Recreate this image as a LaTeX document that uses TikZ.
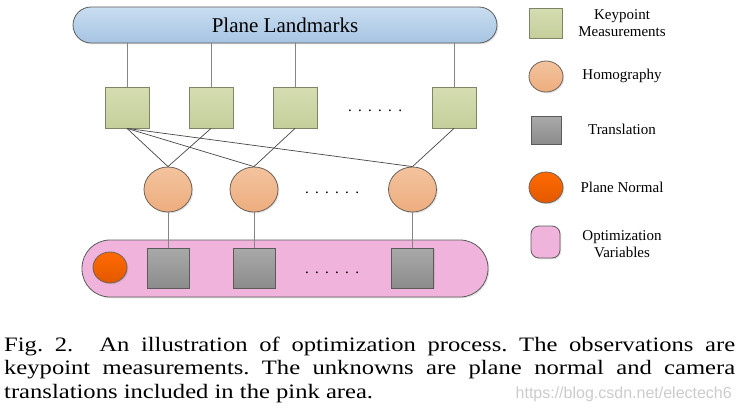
\documentclass[tikz,border=0pt]{standalone}
\usepackage{fontspec}
\setmainfont{Liberation Serif}
\newfontfamily\capfont[FakeStretch=1.2]{Liberation Serif}
\newfontfamily\wmfont{Liberation Sans}
\usetikzlibrary{shapes.geometric,shadows}
\definecolor{blueT}{HTML}{C9DDF0}
\definecolor{blueB}{HTML}{A6C4E2}
\definecolor{greenT}{HTML}{D5DDB2}
\definecolor{greenB}{HTML}{C5CF9B}
\definecolor{greenD}{HTML}{7E8466}
\definecolor{orT}{HTML}{F3C39E}
\definecolor{orB}{HTML}{EDAD7E}
\definecolor{orD}{HTML}{6E6258}
\definecolor{grT}{HTML}{A9A9A9}
\definecolor{grB}{HTML}{8C8C8C}
\definecolor{grD}{HTML}{5A5A5A}
\definecolor{nrT}{HTML}{FF6A00}
\definecolor{nrB}{HTML}{E25800}
\definecolor{pinkC}{HTML}{F0B3DB}
\definecolor{edgeD}{HTML}{5C5C5C}
\newcommand\sixdots{.\hspace{6.3pt}.\hspace{6.3pt}.\hspace{6.3pt}.\hspace{6.3pt}.\hspace{6.3pt}.}
\tikzset{
  shad/.style={drop shadow={opacity=0.22,shadow xshift=1.3pt,shadow yshift=-1.3pt}},
  landmark/.style={rectangle, draw=edgeD, line width=0.8pt, rounded corners=18pt,
    top color=blueT, bottom color=blueB, minimum width=424pt, minimum height=36pt,
    inner sep=0pt, font=\fontsize{21}{24}\selectfont, shad},
  kpbox/.style={rectangle, draw=greenD, line width=0.8pt, top color=greenT, bottom color=greenB,
    minimum width=44pt, minimum height=41pt, inner sep=0pt, shad},
  homo/.style={ellipse, draw=orD, line width=0.8pt, top color=orT, bottom color=orB,
    minimum width=48pt, minimum height=45pt, inner sep=0pt, shad},
  trans/.style={rectangle, draw=grD, line width=0.8pt, top color=grT, bottom color=grB,
    minimum width=42pt, minimum height=40pt, inner sep=0pt, shad},
  pnormal/.style={ellipse, draw=orD, line width=0.8pt, top color=nrT, bottom color=nrB,
    minimum width=34pt, minimum height=31pt, inner sep=0pt, shad},
  optarea/.style={rectangle, draw=edgeD, line width=0.8pt, fill=pinkC, rounded corners=28pt,
    minimum width=406pt, minimum height=57pt, inner sep=0pt, shad},
  link/.style={draw=black!48, line width=0.9pt},
  cross/.style={draw=black!72, line width=0.7pt},
  legtext/.style={font=\fontsize{15}{17}\selectfont, align=center, inner sep=0pt},
  dotsrow/.style={inner sep=0pt, font=\fontsize{15}{15}\selectfont}
}
\begin{document}
\begin{tikzpicture}[x=1pt,y=-1pt]
\useasboundingbox (0,0) rectangle (740,416);
\fill[white] (0,0) rectangle (740,416);

% top landmark bar
\node[landmark] (land) at (285,25) {Plane Landmarks};

% keypoint measurements
\node[kpbox] (k1) at (127,107.5) {};
\node[kpbox] (k2) at (211,107.5) {};
\node[kpbox] (k3) at (295,107.5) {};
\node[kpbox] (k4) at (454,107.5) {};
\node[dotsrow] (d1) at (375,110.5) {\sixdots};

% homographies
\node[homo] (h1) at (168,189.5) {};
\node[homo] (h2) at (254,189.5) {};
\node[homo] (h3) at (412.5,189.5) {};
\node[dotsrow] (d2) at (332,193) {\sixdots};

% optimization variables
\node[optarea] (opt) at (285,268.5) {};
\node[pnormal] (n1) at (110,267.5) {};
\node[trans] (t1) at (168,268) {};
\node[trans] (t2) at (254,268) {};
\node[trans] (t3) at (412.5,268) {};
\node[dotsrow] (d3) at (332,273) {\sixdots};

% connectors
\foreach \k in {k1,k2,k3,k4}{
  \draw[link] (\k.north) -- (\k.north |- land.south);
}
\draw[cross] (k1.south) -- (h1.north);
\draw[cross] (k1.south) -- (h2.north);
\draw[cross] (k1.south) -- (h3.north);
\draw[cross] (k2.south) -- (h1.north);
\draw[cross] (k3.south) -- (h2.north);
\draw[cross] (k4.south) -- (h3.north);
\draw[link] (h1.south) -- (t1.north);
\draw[link] (h2.south) -- (t2.north);
\draw[link] (h3.south) -- (t3.north);

% legend
\node[kpbox, minimum width=33pt, minimum height=30pt] (lk) at (545.5,23) {};
\node[legtext] (lkt) at (622,23) {Keypoint\\Measurements};
\node[homo, minimum width=34pt, minimum height=31pt] (lh) at (546,76.5) {};
\node[legtext] (lht) at (622,76) {Homography};
\node[trans, minimum width=30pt, minimum height=28pt] (lt) at (546,130) {};
\node[legtext] (ltt) at (622,129) {Translation};
\node[pnormal] (ln) at (546,187.5) {};
\node[legtext] (lnt) at (622,187) {Plane Normal};
\node[optarea, minimum width=29pt, minimum height=32pt, rounded corners=8pt] (lo) at (545.5,242) {};
\node[legtext] (lot) at (622,244) {Optimization\\Variables};

% caption
\node[anchor=base west, inner sep=0pt, text width=731pt, align=justify,
  font=\capfont\fontsize{20.5}{23.6}\selectfont\frenchspacing] (cap) at (4,351)
  {Fig.~2.\hspace{26pt}An illustration of optimization process. The observations are\linebreak
   keypoint measurements. The unknowns are plane normal and camera\linebreak
   translations included in the pink area.};
\node[anchor=base east, inner sep=0pt, text=black!20, font=\wmfont\fontsize{16}{16}\selectfont]
  (wm) at (732,398) {https://blog.csdn.net/electech6};
\end{tikzpicture}
\end{document}
